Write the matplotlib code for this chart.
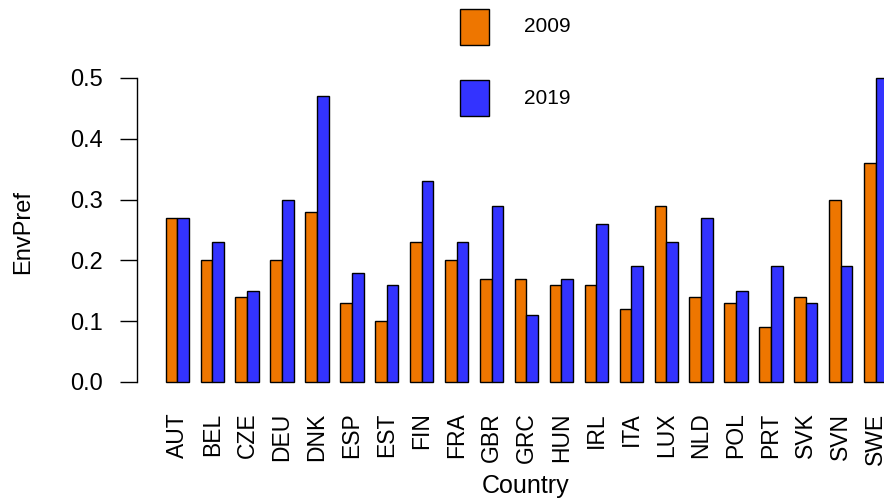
import matplotlib
matplotlib.use("Agg")
import matplotlib.pyplot as plt
from matplotlib.patches import Rectangle
import numpy as np

plt.rcParams['font.family'] = ['Liberation Sans', 'DejaVu Sans']

countries = ["AUT", "BEL", "CZE", "DEU", "DNK", "ESP", "EST", "FIN", "FRA", "GBR",
             "GRC", "HUN", "IRL", "ITA", "LUX", "NLD", "POL", "PRT", "SVK", "SVN", "SWE"]
v2009 = [0.27, 0.20, 0.14, 0.20, 0.28, 0.13, 0.10, 0.23, 0.20, 0.17,
         0.17, 0.16, 0.16, 0.12, 0.29, 0.14, 0.13, 0.09, 0.14, 0.30, 0.36]
v2019 = [0.27, 0.23, 0.15, 0.30, 0.47, 0.18, 0.16, 0.33, 0.23, 0.29,
         0.11, 0.17, 0.26, 0.19, 0.23, 0.27, 0.15, 0.19, 0.13, 0.19, 0.50]
series_labels = ["2009", "2019"]
yticks = [0.0, 0.1, 0.2, 0.3, 0.4, 0.5]

c_orange = "#EE7600"
c_blue = "#3333FF"

W, H = 884, 500
fig = plt.figure(figsize=(W / 100, H / 100), dpi=100)

# axes in pixel geometry
left_px, right_px = 136.7, 884.0
bottom_px, top_px = 382.0, 78.0
ax = fig.add_axes([left_px / W, (H - bottom_px) / H,
                   (right_px - left_px) / W, (bottom_px - top_px) / H])

unit = 11.64
x0_px = 154.0
ax.set_xlim((left_px - x0_px) / unit, (right_px - x0_px) / unit)
ax.set_ylim(0, 0.5)

idx = np.arange(len(countries))
left_orange = 1 + 3 * idx
left_blue = 2 + 3 * idx
ax.bar(left_orange, v2009, width=1, align='edge', color=c_orange,
       edgecolor='black', linewidth=1.0, clip_on=False)
ax.bar(left_blue, v2019, width=1, align='edge', color=c_blue,
       edgecolor='black', linewidth=1.0, clip_on=False)

for s in ['top', 'right', 'bottom']:
    ax.spines[s].set_visible(False)
ax.spines['left'].set_bounds(0, 0.5)
ax.spines['left'].set_linewidth(1.0)

ax.set_yticks(yticks)
ax.set_yticklabels([f"{t:.1f}" for t in yticks], fontsize=17)
ax.tick_params(axis='y', length=12, width=1.0, pad=12, colors='black')

ax.set_xticks(2 + 3 * idx)
ax.set_xticklabels(countries, rotation=90, fontsize=16.5, va='top', ha='center')
ax.tick_params(axis='x', length=0, pad=22)

fig.text(23 / W, (H - 232) / H, "EnvPref", rotation=90, fontsize=17,
         ha='center', va='center')
fig.text(526 / W, (H - 486) / H, "Country", fontsize=18,
         ha='center', va='center')

# legend
for (y_top, y_bot), col, lab, ty in zip([(9, 45), (80, 116)], [c_orange, c_blue],
                                        series_labels, [27, 98]):
    fig.add_artist(Rectangle((460 / W, (H - y_bot) / H), 29 / W, (y_bot - y_top) / H,
                             transform=fig.transFigure, facecolor=col,
                             edgecolor='black', linewidth=1.0))
    fig.text(524 / W, (H - ty) / H, lab, fontsize=15, ha='left', va='center')

fig.savefig("out.png", dpi=100)
